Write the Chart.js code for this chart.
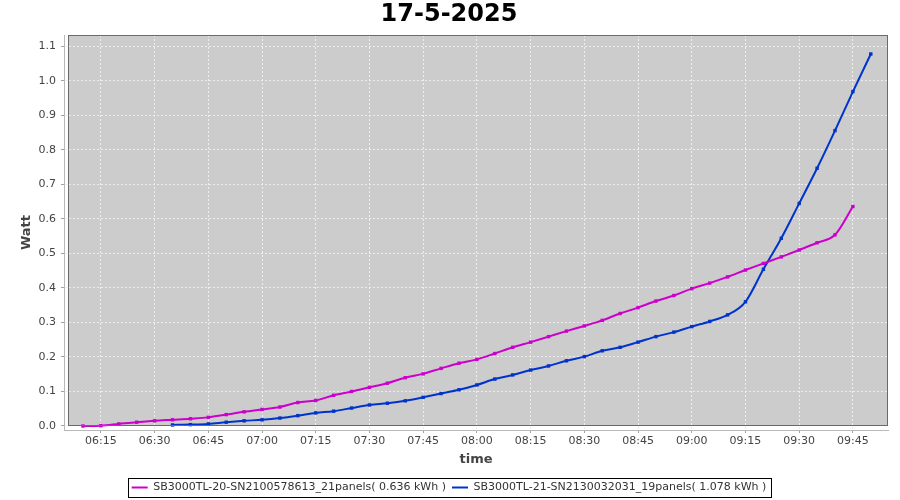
<!DOCTYPE html>
<html>
<head>
<meta charset="utf-8">
<script src="https://cdn.jsdelivr.net/npm/chart.js@4.4.1/dist/chart.umd.min.js"></script>
<style>
  html, body { margin: 0; padding: 0; background: #fff; }
</style>
</head>
<body>
<canvas id="chart" width="900" height="500"></canvas>
<script>
/* ===== DATA ===== */
const chartTitle = "17-5-2025";

const timeLabels = [
  "06:10", "06:15", "06:20", "06:25", "06:30", "06:35", "06:40", "06:45", "06:50", "06:55",
  "07:00", "07:05", "07:10", "07:15", "07:20", "07:25", "07:30", "07:35", "07:40", "07:45", "07:50", "07:55",
  "08:00", "08:05", "08:10", "08:15", "08:20", "08:25", "08:30", "08:35", "08:40", "08:45", "08:50", "08:55",
  "09:00", "09:05", "09:10", "09:15", "09:20", "09:25", "09:30", "09:35", "09:40", "09:45", "09:50"
];

const sb20Watt = [
  0.000, 0.001, 0.006, 0.011, 0.015, 0.018, 0.021, 0.025, 0.033, 0.041,
  0.048, 0.055, 0.068, 0.074, 0.089, 0.100, 0.112, 0.124, 0.140, 0.151, 0.167, 0.182,
  0.193, 0.210, 0.228, 0.243, 0.259, 0.275, 0.290, 0.306, 0.326, 0.343, 0.362, 0.378,
  0.398, 0.414, 0.432, 0.452, 0.471, 0.490, 0.510, 0.531, 0.554, 0.636, null
];

const sb21Watt = [
  null, null, null, null, null, 0.003, 0.004, 0.006, 0.011, 0.015,
  0.018, 0.023, 0.030, 0.038, 0.043, 0.052, 0.061, 0.066, 0.073, 0.083, 0.094, 0.105,
  0.119, 0.136, 0.148, 0.162, 0.174, 0.189, 0.201, 0.218, 0.228, 0.243, 0.259, 0.272,
  0.288, 0.303, 0.322, 0.360, 0.454, 0.544, 0.645, 0.747, 0.856, 0.969, 1.078
];

const seriesNames = [
  "SB3000TL-20-SN2100578613_21panels( 0.636 kWh )",
  "SB3000TL-21-SN2130032031_19panels( 1.078 kWh )"
];
const seriesColors = ["#cc00cc", "#0033cc"];

/* ===== HELPERS ===== */
const toMinutes = s => { const [h, m] = s.split(":"); return +h * 60 + +m; };
const fmtTime = v => String(Math.floor(v / 60)).padStart(2, "0") + ":" + String(v % 60).padStart(2, "0");
const points = vals => timeLabels.map((t, i) => ({ x: toMinutes(t), y: vals[i] }));

const FONT = "'DejaVu Sans', Verdana, sans-serif";

/* ===== PLOT FRAME (gray area, offset axes, legend box) ===== */
const plotFrame = {
  id: "plotFrame",
  beforeDraw(chart) {
    const { ctx, chartArea: a } = chart;
    ctx.save();
    ctx.fillStyle = "#cccccc";
    ctx.fillRect(a.left + 4, a.top, a.right - a.left - 4, a.bottom - a.top - 4);
    ctx.restore();
  },
  afterDraw(chart) {
    const { ctx, chartArea: a } = chart;
    ctx.save();
    ctx.strokeStyle = "#6a6a6a";
    ctx.lineWidth = 1;
    ctx.strokeRect(a.left + 4.5, a.top + 0.5, a.right - a.left - 5, a.bottom - a.top - 5);

    const boxes = chart.legend.legendHitBoxes;
    if (boxes && boxes.length) {
      const l = Math.min(...boxes.map(b => b.left)) - 4;
      const r = Math.max(...boxes.map(b => b.left + b.width)) + 4;
      const t = boxes[0].top - 4;
      const h = boxes[0].height + 8;
      ctx.strokeStyle = "#000";
      ctx.strokeRect(Math.round(l) + 0.5, Math.round(t) + 0.5, Math.round(r - l), Math.round(h));
    }
    ctx.restore();
  }
};

/* ===== CHART ===== */
new Chart(document.getElementById("chart"), {
  type: "line",
  data: {
    datasets: [
      {
        label: seriesNames[0],
        data: points(sb20Watt),
        borderColor: seriesColors[0],
        backgroundColor: seriesColors[0],
        borderWidth: 2,
        pointRadius: 1,
        pointStyle: "rect",
        cubicInterpolationMode: "monotone"
      },
      {
        label: seriesNames[1],
        data: points(sb21Watt),
        borderColor: seriesColors[1],
        backgroundColor: seriesColors[1],
        borderWidth: 2,
        pointRadius: 1,
        pointStyle: "rect",
        cubicInterpolationMode: "monotone"
      }
    ]
  },
  options: {
    responsive: false,
    animation: false,
    layout: { padding: { left: 10, right: 12, top: 0, bottom: -3 } },
    plugins: {
      title: {
        display: true,
        text: chartTitle,
        color: "#000",
        font: { family: FONT, size: 24, weight: "bold" },
        padding: { top: 0, bottom: 6.2 }
      },
      legend: {
        position: "bottom",
        labels: {
          color: "#333",
          font: { family: FONT, size: 11 },
          usePointStyle: true,
          pointStyle: "line",
          pointStyleWidth: 16,
          boxHeight: 11,
          padding: 6
        }
      },
      tooltip: { enabled: false }
    },
    scales: {
      x: {
        type: "linear",
        min: 364.7,
        max: 594.8,
        afterFit: scale => { scale.height = 46; },
        ticks: {
          stepSize: 15,
          maxTicksLimit: 20,
          includeBounds: false,
          color: "#444",
          font: { family: FONT, size: 11 },
          padding: 2,
          maxRotation: 0,
          callback: v => fmtTime(v)
        },
        grid: { color: "#eeeeee", tickColor: "#a0a0a0", tickLength: 3 },
        border: { color: "#b8b8b8", dash: [2, 2] },
        title: {
          display: true,
          text: "time",
          color: "#444",
          font: { family: FONT, size: 13, weight: "bold" },
          padding: { top: 0, bottom: 8.2 }
        }
      },
      y: {
        min: -0.0116,
        max: 1.133,
        afterFit: scale => { scale.width = 54; },
        ticks: {
          stepSize: 0.1,
          maxTicksLimit: 16,
          includeBounds: false,
          color: "#444",
          font: { family: FONT, size: 11 },
          padding: 5,
          callback: v => v.toFixed(1)
        },
        grid: { color: "#eeeeee", tickColor: "#a0a0a0", tickLength: 3 },
        border: { color: "#b8b8b8", dash: [2, 2] },
        title: {
          display: true,
          text: "Watt",
          color: "#444",
          font: { family: FONT, size: 13, weight: "bold" },
          padding: { top: 9, bottom: 0 }
        }
      }
    }
  },
  plugins: [plotFrame]
});
</script>
</body>
</html>
